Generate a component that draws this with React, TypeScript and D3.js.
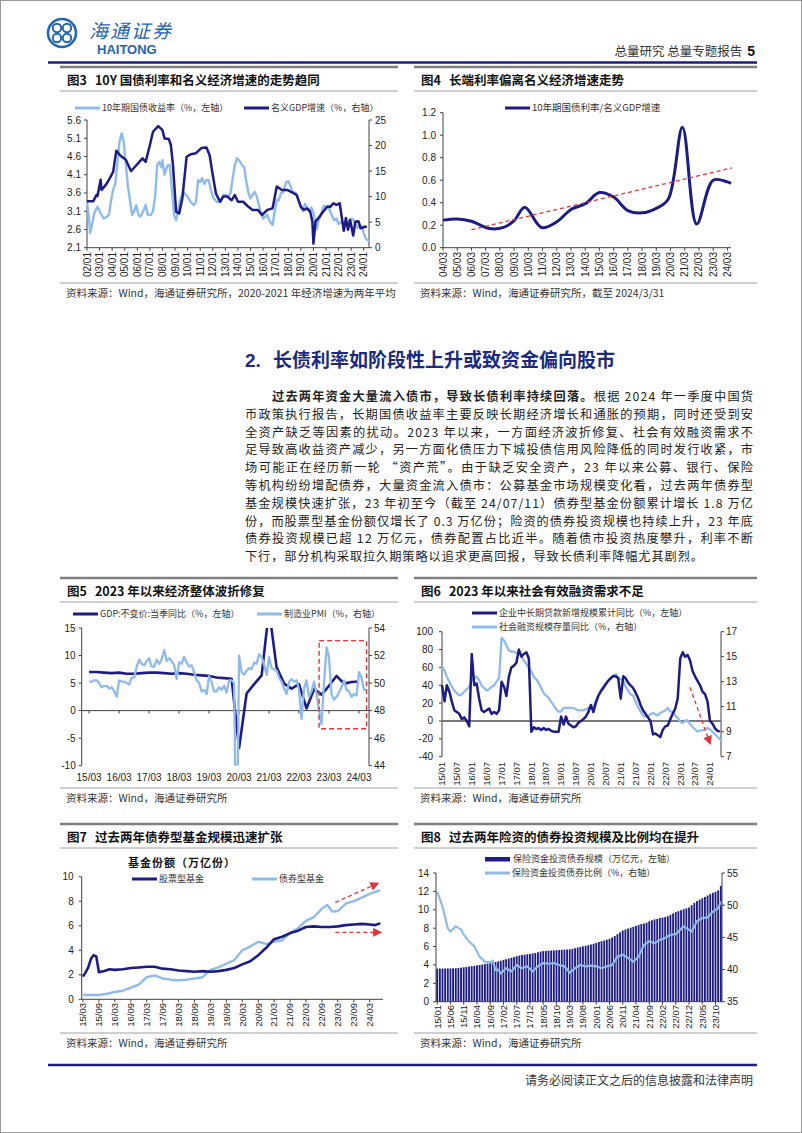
import React from 'react';
import * as d3 from 'd3';

const NAVY = '#1c1c84';
const LIGHT = '#8fbbea';
const RED = '#e5333a';
const AXIS = '#404040';
const CJK = '"Noto Sans CJK SC", "Noto Sans", sans-serif';
const NUM = '"Liberation Sans", Arial, sans-serif';

type Pt = [string, number];
const ym = (s: string) => {
  const [y, m] = s.split('/').map(Number);
  return new Date(2000 + y, m - 1, 1);
};

// ---------- 图3 ----------
const c3LeftTicks = [2.1, 2.6, 3.1, 3.6, 4.1, 4.6, 5.1, 5.6];
const c3RightTicks = [0, 5, 10, 15, 20, 25];
const c3XLabels = ['02/01', '03/01', '04/01', '05/01', '06/01', '07/01', '08/01', '09/01', '10/01', '11/01', '12/01', '13/01',
  '14/01', '15/01', '16/01', '17/01', '18/01', '19/01', '20/01', '21/01', '22/01', '23/01', '24/01'];
const c3Yield: Pt[] = [
  ['02/01', 3.35], ['02/03', 2.9], ['02/04', 2.5], ['02/06', 2.75], ['02/08', 3.05], ['02/11', 3.22], ['03/02', 3.05],
  ['03/05', 2.9], ['03/08', 2.95], ['03/10', 3.0], ['03/12', 3.4], ['04/02', 3.7], ['04/04', 3.85], ['04/06', 4.4],
  ['04/08', 5.0], ['04/10', 5.23], ['04/12', 5.0], ['05/02', 4.4], ['05/04', 3.8], ['05/06', 3.4], ['05/08', 3.0],
  ['05/10', 3.1], ['05/12', 3.27], ['06/02', 3.0], ['06/04', 2.95], ['06/06', 3.05], ['06/09', 3.27], ['06/11', 3.0],
  ['07/02', 3.0], ['07/04', 3.1], ['07/06', 3.5], ['07/08', 4.36], ['07/10', 4.45], ['07/12', 4.3], ['08/01', 4.5],
  ['08/03', 4.1], ['08/04', 4.2], ['08/06', 4.36], ['08/08', 4.36], ['08/10', 3.7], ['08/12', 3.0], ['09/02', 2.86],
  ['09/04', 3.1], ['09/06', 3.45], ['09/09', 3.63], ['09/11', 3.55], ['10/01', 3.5], ['10/04', 3.35], ['10/07', 3.27],
  ['10/09', 3.35], ['10/11', 3.95], ['11/01', 3.9], ['11/03', 4.0], ['11/05', 3.85], ['11/07', 3.95], ['11/09', 3.95],
  ['11/12', 3.6], ['12/02', 3.45], ['12/05', 3.35], ['12/08', 3.36], ['12/11', 3.55], ['13/01', 3.54], ['13/04', 3.5],
  ['13/06', 3.6], ['13/08', 4.0], ['13/10', 4.36], ['13/12', 4.55], ['14/02', 4.5], ['14/05', 4.36], ['14/07', 4.3],
  ['14/09', 3.9], ['14/11', 3.6], ['15/01', 3.45], ['15/03', 3.55], ['15/05', 3.63], ['15/07', 3.5], ['15/09', 3.27],
  ['15/11', 3.05], ['16/01', 2.9], ['16/03', 2.95], ['16/05', 3.0], ['16/07', 2.85], ['16/10', 2.72], ['16/12', 3.1],
  ['17/02', 3.4], ['17/04', 3.4], ['17/06', 3.6], ['17/08', 3.62], ['17/11', 3.9], ['18/01', 3.92], ['18/03', 3.8],
  ['18/05', 3.63], ['18/08', 3.6], ['18/10', 3.5], ['19/01', 3.2], ['19/03', 3.1], ['19/05', 3.3], ['19/07', 3.2],
  ['19/09', 3.1], ['19/11', 3.2], ['20/01', 3.05], ['20/03', 2.7], ['20/04', 2.6], ['20/06', 2.85], ['20/08', 3.0],
  ['20/11', 3.25], ['21/01', 3.2], ['21/03', 3.25], ['21/05', 3.1], ['21/07', 2.95], ['21/09', 2.85], ['21/11', 2.9],
  ['22/01', 2.75], ['22/03', 2.8], ['22/05', 2.78], ['22/07', 2.75], ['22/09', 2.7], ['22/11', 2.85], ['23/01', 2.9],
  ['23/03', 2.87], ['23/05', 2.75], ['23/07', 2.65], ['23/09', 2.7], ['23/11', 2.68], ['24/01', 2.5], ['24/03', 2.35],
  ['24/05', 2.3], ['24/06', 2.27],
];
const c3Gdp: Pt[] = [
  ['02/01', 9.1], ['02/07', 9.1], ['02/10', 10.3], ['02/11', 10.1], ['03/02', 13.3], ['03/03', 11.3], ['03/07', 12.3],
  ['03/10', 13.3], ['04/02', 14.9], ['04/05', 19.0], ['04/09', 18.0], ['05/02', 17.2], ['05/07', 15.0], ['05/11', 15.9],
  ['06/03', 16.8], ['06/06', 17.5], ['06/09', 16.8], ['07/01', 20.1], ['07/04', 22.7], ['07/09', 23.8], ['08/01', 23.0],
  ['08/03', 21.4], ['08/07', 21.3], ['08/09', 20.1], ['08/11', 16.2], ['09/02', 7.0], ['09/05', 6.7], ['09/08', 9.7],
  ['09/12', 17.8], ['10/04', 18.3], ['10/09', 18.5], ['11/02', 19.5], ['11/07', 19.6], ['11/10', 18.1], ['12/01', 14.2],
  ['12/04', 10.6], ['12/08', 9.0], ['12/11', 10.0], ['13/03', 10.0], ['13/07', 9.3], ['13/10', 10.3], ['14/01', 9.0],
  ['14/06', 9.0], ['14/11', 8.0], ['15/03', 7.4], ['15/08', 7.4], ['15/12', 6.4], ['16/05', 7.4], ['16/10', 7.7],
  ['17/02', 12.0], ['17/07', 11.3], ['17/12', 11.3], ['18/05', 10.8], ['18/09', 10.3], ['19/01', 8.0], ['19/04', 7.4],
  ['19/07', 7.7], ['19/10', 7.0], ['19/12', 5.1], ['20/01', 0.8], ['20/03', 5.1], ['20/07', 6.1], ['20/10', 7.0],
  ['21/02', 8.0], ['21/05', 8.0], ['21/08', 8.7], ['21/11', 8.4], ['22/02', 8.7], ['22/06', 3.3], ['22/08', 5.8],
  ['22/10', 3.5], ['22/12', 5.4], ['23/03', 2.4], ['23/05', 5.1], ['23/08', 5.2], ['23/10', 3.8], ['24/02', 4.1],
  ['24/04', 4.1],
];

// ---------- 图4 ----------
const c4Ticks = [0, 0.2, 0.4, 0.6, 0.8, 1.0, 1.2];
const c4XLabels = ['04/03', '05/03', '06/03', '07/03', '08/03', '09/03', '10/03', '11/03', '12/03', '13/03', '14/03',
  '15/03', '16/03', '17/03', '18/03', '19/03', '20/03', '21/03', '22/03', '23/03', '24/03'];
const c4Ratio: Pt[] = [
  ['04/03', 0.245], ['05/03', 0.255], ['06/03', 0.235], ['07/06', 0.17], ['08/06', 0.18], ['09/03', 0.24],
  ['09/12', 0.36], ['11/02', 0.18], ['12/03', 0.23], ['13/03', 0.34], ['14/03', 0.39], ['15/03', 0.49],
  ['16/03', 0.45], ['17/03', 0.33], ['18/03', 0.31], ['19/03', 0.35], ['20/01', 0.43], ['21/01', 1.07],
  ['22/01', 0.21], ['23/03', 0.6], ['24/03', 0.585], ['24/06', 0.57],
];
const c4Trend: Pt[] = [['06/03', 0.16], ['24/07', 0.71]];

// ---------- 图5 ----------
const c5LeftTicks = [-10, -5, 0, 5, 10, 15];
const c5RightTicks = [44, 46, 48, 50, 52, 54];
const c5XLabels = ['15/03', '16/03', '17/03', '18/03', '19/03', '20/03', '21/03', '22/03', '23/03', '24/03'];
const c5Gdp: Pt[] = [
  ['15/03', 7.0], ['15/06', 7.0], ['15/09', 6.9], ['15/12', 6.8], ['16/03', 6.9], ['16/06', 6.7], ['16/09', 6.7],
  ['16/12', 6.8], ['17/03', 6.9], ['17/06', 6.9], ['17/09', 6.8], ['17/12', 6.7], ['18/03', 6.8], ['18/06', 6.7],
  ['18/09', 6.5], ['18/12', 6.4], ['19/03', 6.3], ['19/06', 6.0], ['19/09', 5.9], ['19/12', 5.8], ['20/03', -6.8],
  ['20/06', 3.1], ['20/09', 4.8], ['20/12', 6.4], ['21/03', 18.3], ['21/06', 7.9], ['21/09', 4.9], ['21/12', 4.0],
  ['22/03', 4.8], ['22/06', 0.4], ['22/09', 3.9], ['22/12', 2.9], ['23/03', 4.5], ['23/06', 6.3], ['23/09', 4.9],
  ['23/12', 5.2], ['24/03', 5.3],
];
const c5PmiStart = '15/03';
const c5Pmi = [
  50.1, 50.1, 50.2, 50.2, 50.0, 49.7, 49.8, 49.8, 49.6, 49.7,
  49.4, 49.0, 50.2, 50.1, 50.1, 50.0, 49.9, 50.4, 50.4, 51.2, 51.7, 51.4,
  51.3, 51.6, 51.8, 51.2, 51.2, 51.7, 51.4, 51.7, 52.4, 51.6, 51.8, 51.6,
  51.3, 50.3, 51.5, 51.4, 51.9, 51.5, 51.2, 51.3, 50.8, 50.2, 50.0, 49.4,
  49.5, 49.2, 50.5, 50.1, 49.4, 49.4, 49.7, 49.5, 49.8, 49.3, 50.2, 50.2,
  50.0, 35.7, 52.0, 50.8, 50.6, 50.9, 51.1, 51.0, 51.5, 51.4, 52.1, 51.9,
  51.3, 50.6, 51.9, 51.1, 51.0, 50.9, 50.4, 50.1, 49.6, 49.2, 50.1, 50.3,
  50.1, 50.2, 49.5, 47.4, 49.6, 50.2, 49.0, 49.4, 50.1, 49.2, 48.0, 47.0,
  50.1, 52.6, 51.9, 49.2, 48.8, 49.0, 49.3, 49.7, 50.2, 49.5, 49.4, 49.0,
  49.2, 49.1, 50.8, 50.4, 49.5, 49.5,
];
const c5Box: Pt[] = [['22/11', 12.7], ['24/06', -3.3]];

// ---------- 图6 ----------
const c6LeftTicks = [-40, -20, 0, 20, 40, 60, 80, 100];
const c6RightTicks = [7, 9, 11, 13, 15, 17];
const c6XLabels = ['15/01', '15/07', '16/01', '16/07', '17/01', '17/07', '18/01', '18/07', '19/01', '19/07', '20/01',
  '20/07', '21/01', '21/07', '22/01', '22/07', '23/01', '23/07', '24/01'];
const c6Start = '15/01';
const c6Loan = [
  40, 22, 40, 33, 22, 12, 10, 8, 2, 4, 0, -6,
  75, 40, 42, 25, 12, 10, 12, 14, 8, 10, 8, 12,
  44, 38, 28, 50, 60, 62, 65, 80, 72, 75, 77, 70,
  -12, -7, -9, -8, -10, -8, -10, -9, -11, -12, -12, -12,
  5, -4, 5, -3, -5, -7, -6, -2, 0, 2, 5, 10,
  18, 10, 20, 28, 33, 37, 41, 45, 48, 50, 50, 48,
  25, 50, 48, 43, 40, 37, 32, 26, 18, 12, 8, 4,
  0, -15, -14, -16, -18, -10, -6, -5, 2, 8, 14, 25,
  70, 77, 72, 74, 68, 56, 50, 45, 40, 33, 30, 22,
  0, -3, -8, -11, -12,
];
const c6Tsf = [
  14.2, 13.9, 13.4, 13.0, 12.6, 12.3, 12.1, 11.9, 12.0, 12.2, 12.4, 12.6,
  13.1, 13.3, 13.4, 13.1, 12.7, 12.5, 12.3, 12.4, 12.6, 12.7, 13.0, 13.3,
  16.5, 16.3, 15.9, 15.5, 15.4, 15.4, 15.3, 15.4, 15.1, 14.7, 14.4, 14.1,
  13.8, 13.4, 13.2, 12.9, 12.5, 12.1, 11.9, 11.7, 11.4, 11.1, 10.8, 10.6,
  10.6, 10.9, 10.9, 10.9, 10.9, 10.9, 10.8, 10.7, 10.7, 10.7, 10.8, 10.9,
  10.9, 11.0, 11.5, 11.9, 12.3, 12.6, 12.9, 13.1, 13.3, 13.5, 13.6, 13.3,
  13.2, 13.1, 12.6, 12.3, 12.0, 11.9, 11.4, 11.0, 10.6, 10.3, 10.2, 10.2,
  10.4, 10.5, 10.4, 10.3, 10.5, 10.6, 10.7, 10.9, 10.6, 10.6, 10.3, 10.1,
  9.8, 9.7, 9.9, 9.9, 9.6, 9.4, 9.2, 9.0, 9.1, 9.1, 9.2, 9.3,
  9.2, 9.0, 8.8, 8.6, 8.4, 8.3,
];
const c6Arrow: Pt[] = [['23/05', 37.7], ['24/01', -25]];

// ---------- 图7 ----------
const c7Ticks = [0, 2, 4, 6, 8, 10];
const c7XLabels = ['15/03', '15/09', '16/03', '16/09', '17/03', '17/09', '18/03', '18/09', '19/03', '19/09', '20/03',
  '20/09', '21/03', '21/09', '22/03', '22/09', '23/03', '23/09', '24/03'];
const c7Equity: Pt[] = [
  ['15/03', 1.85], ['15/04', 2.2], ['15/05', 2.6], ['15/06', 3.3], ['15/07', 3.6], ['15/08', 3.5], ['15/09', 2.2],
  ['15/11', 2.3], ['16/01', 2.45], ['16/03', 2.4], ['16/06', 2.45], ['16/09', 2.55], ['16/12', 2.6], ['17/03', 2.65],
  ['17/06', 2.65], ['17/09', 2.5], ['17/12', 2.45], ['18/03', 2.35], ['18/06', 2.3], ['18/09', 2.25], ['18/12', 2.3],
  ['19/03', 2.25], ['19/06', 2.3], ['19/09', 2.4], ['19/12', 2.55], ['20/03', 2.85], ['20/06', 3.1], ['20/09', 3.6],
  ['20/12', 4.2], ['21/03', 4.9], ['21/06', 5.1], ['21/09', 5.4], ['21/12', 5.6], ['22/03', 5.9], ['22/06', 5.95],
  ['22/09', 5.9], ['22/12', 5.9], ['23/03', 5.95], ['23/06', 6.05], ['23/09', 6.1], ['23/12', 6.15], ['24/03', 6.1],
  ['24/05', 6.05], ['24/07', 6.2],
];
const c7Bond: Pt[] = [
  ['15/03', 0.35], ['15/09', 0.35], ['15/12', 0.45], ['16/03', 0.6], ['16/06', 0.7], ['16/09', 0.95], ['16/12', 1.2],
  ['17/03', 1.8], ['17/06', 1.95], ['17/09', 1.7], ['17/12', 1.6], ['18/03', 1.55], ['18/06', 1.6], ['18/09', 1.7],
  ['18/12', 1.8], ['19/03', 2.4], ['19/06', 2.6], ['19/09', 2.9], ['19/12', 3.2], ['20/03', 4.0], ['20/06', 4.3],
  ['20/09', 4.7], ['20/12', 4.5], ['21/03', 4.7], ['21/06', 4.8], ['21/09', 5.4], ['21/12', 5.8], ['22/03', 6.4],
  ['22/06', 6.7], ['22/09', 7.4], ['22/11', 7.7], ['23/01', 7.15], ['23/03', 7.2], ['23/06', 7.8], ['23/09', 8.0],
  ['24/01', 8.4], ['24/03', 8.6], ['24/07', 8.9],
];
const c7ArrowUp: Pt[] = [['23/02', 7.9], ['24/06', 9.45]];
const c7ArrowFlat: Pt[] = [['23/02', 5.46], ['24/07', 5.46]];

// ---------- 图8 ----------
const c8LeftTicks = [0, 2, 4, 6, 8, 10, 12, 14];
const c8RightTicks = [35, 40, 45, 50, 55];
const c8XLabels = ['15/01', '15/06', '15/11', '16/04', '16/09', '17/02', '17/07', '17/12', '18/05', '18/10', '19/03',
  '19/08', '20/01', '20/06', '20/11', '21/04', '21/09', '22/02', '22/07', '22/12', '23/05', '23/10'];
const c8Start = '15/01';
const c8Bond = [
  3.60, 3.60, 3.61, 3.60, 3.62, 3.62, 3.63, 3.64, 3.66, 3.70, 3.74, 3.78,
  3.82, 3.86, 3.90, 3.95, 4.00, 4.05, 4.10, 4.15, 4.22, 4.28, 4.32, 4.38,
  4.45, 4.55, 4.62, 4.70, 4.78, 4.85, 4.95, 5.02, 5.08, 5.12, 5.16, 5.20,
  5.25, 5.30, 5.38, 5.45, 5.50, 5.52, 5.55, 5.57, 5.58, 5.60, 5.62, 5.64,
  5.66, 5.68, 5.70, 5.75, 5.82, 5.90, 5.96, 6.02, 6.08, 6.15, 6.22, 6.30,
  6.40, 6.50, 6.58, 6.66, 6.75, 6.85, 7.00, 7.15, 7.35, 7.55, 7.75, 7.85,
  7.95, 8.05, 8.15, 8.25, 8.35, 8.45, 8.50, 8.60, 8.75, 8.85, 8.95, 9.00,
  9.10, 9.15, 9.20, 9.30, 9.45, 9.60, 9.75, 9.85, 9.95, 10.05, 10.15, 10.25,
  10.50, 10.75, 10.95, 11.10, 11.25, 11.40, 11.55, 11.70, 11.85, 11.95, 12.10, 12.60,
];
const c8Ratio: Pt[] = [
  ['15/01', 52.1], ['15/03', 49.8], ['15/05', 46.4], ['15/06', 45.9], ['15/08', 46.7], ['15/10', 46.2], ['15/11', 45.4],
  ['16/01', 44.4], ['16/03', 43.6], ['16/05', 42.0], ['16/07', 41.2], ['16/09', 41.1], ['16/10', 41.4], ['16/11', 39.9],
  ['16/12', 40.0], ['17/01', 39.4], ['17/03', 40.2], ['17/05', 39.7], ['17/07', 40.7], ['17/09', 40.2], ['17/11', 40.5],
  ['18/01', 39.7], ['18/03', 40.5], ['18/05', 41.0], ['18/07', 40.9], ['18/09', 41.0], ['18/11', 40.7], ['19/01', 40.5],
  ['19/03', 39.5], ['19/05', 40.2], ['19/07', 40.7], ['19/09', 40.5], ['19/11', 40.6], ['20/01', 40.5], ['20/03', 40.2],
  ['20/05', 40.5], ['20/07', 40.7], ['20/09', 42.0], ['20/11', 42.3], ['21/01', 41.8], ['21/03', 41.2], ['21/05', 42.0],
  ['21/07', 43.8], ['21/09', 44.4], ['21/11', 44.1], ['22/01', 44.6], ['22/03', 44.9], ['22/05', 45.4], ['22/07', 45.5],
  ['22/10', 46.7], ['23/01', 45.9], ['23/03', 47.5], ['23/05', 48.0], ['23/07', 48.1], ['23/09', 49.0], ['23/11', 49.5],
  ['23/12', 50.6],
];

// ---------- 正文 ----------
const leadBold = '过去两年资金大量流入债市，导致长债利率持续回落。';
const leadRest = '根据 2024 年一季度中国货';
const paraLines = [
  '币政策执行报告，长期国债收益率主要反映长期经济增长和通胀的预期，同时还受到安',
  '全资产缺乏等因素的扰动。2023 年以来，一方面经济波折修复、社会有效融资需求不',
  '足导致高收益资产减少，另一方面化债压力下城投债信用风险降低的同时发行收紧，市',
  '场可能正在经历新一轮 “资产荒”。由于缺乏安全资产，23 年以来公募、银行、保险',
  '等机构纷纷增配债券，大量资金流入债市：公募基金市场规模变化看，过去两年债券型',
  '基金规模快速扩张，23 年初至今（截至 24/07/11）债券型基金份额累计增长 1.8 万亿',
  '份，而股票型基金份额仅增长了 0.3 万亿份；险资的债券投资规模也持续上升，23 年底',
  '债券投资规模已超 12 万亿元，债券配置占比近半。随着债市投资热度攀升，利率不断',
  '下行，部分机构采取拉久期策略以追求更高回报，导致长债利率降幅尤其剧烈。',
];

// ---------- helpers ----------
type Lin = d3.ScaleLinear<number, number>;

function Frame({ x0, x1, top, bottom, num, title, source }: {
  x0: number; x1: number; top: number; bottom: number; num: string; title: string; source: string;
}) {
  return (
    <g>
      <line x1={x0} x2={x1} y1={top} y2={top} stroke="#808080" strokeWidth={2.5} />
      <text x={x0 + 7} y={top + 18} fontFamily={CJK} fontSize={12.5} fontWeight="bold" fill="#111">
        <tspan>{num}</tspan>
        <tspan dx={8}>{title}</tspan>
      </text>
      <line x1={x0} x2={x1} y1={top + 24} y2={top + 24} stroke="#a0a0a0" strokeWidth={1} />
      <line x1={x0} x2={x1} y1={bottom} y2={bottom} stroke="#a0a0a0" strokeWidth={1} />
      <text x={x0 + 6} y={bottom + 14} fontFamily={CJK} fontSize={10.5} fill="#333">{source}</text>
    </g>
  );
}

function YAxis({ scale, x, ticks, side, fmt = (d: number) => String(d), tick = 3, gap = 3 }: {
  scale: Lin; x: number; ticks: number[]; side: 'left' | 'right'; fmt?: (d: number) => string; tick?: number; gap?: number;
}) {
  const [r0, r1] = scale.range();
  const dir = side === 'left' ? -1 : 1;
  return (
    <g>
      <line x1={x} x2={x} y1={r0} y2={r1} stroke={AXIS} strokeWidth={1} />
      {ticks.map((t) => (
        <g key={t}>
          <line x1={x} x2={x + dir * tick} y1={scale(t)} y2={scale(t)} stroke={AXIS} />
          <text x={x + dir * (tick + gap)} y={scale(t)} dy="0.35em" textAnchor={side === 'left' ? 'end' : 'start'}
            fontFamily={NUM} fontSize={10} fill="#222">{fmt(t)}</text>
        </g>
      ))}
    </g>
  );
}

function XAxisLine({ x0, x1, y, ticks, len = 3 }: { x0: number; x1: number; y: number; ticks: number[]; len?: number }) {
  return (
    <g>
      <line x1={x0} x2={x1} y1={y} y2={y} stroke={AXIS} />
      {ticks.map((t, i) => <line key={i} x1={t} x2={t} y1={y} y2={y + len} stroke={AXIS} />)}
    </g>
  );
}

function RotLabels({ items, y, size = 9.5 }: { items: [string, number][]; y: number; size?: number }) {
  return (
    <g>
      {items.map(([l, x]) => (
        <text key={l} transform={`translate(${x},${y}) rotate(-90)`} textAnchor="end" dy="0.35em"
          fontFamily={NUM} fontSize={size} fill="#222">{l}</text>
      ))}
    </g>
  );
}

function LegendLine({ x, y, color, label, w = 25, sw = 3, size = 9 }: {
  x: number; y: number; color: string; label: string; w?: number; sw?: number; size?: number;
}) {
  return (
    <g>
      <line x1={x} x2={x + w} y1={y} y2={y} stroke={color} strokeWidth={sw} />
      <text x={x + w + 2} y={y} dy="0.36em" fontFamily={CJK} fontSize={size} fill="#333">{label}</text>
    </g>
  );
}

// ---------- charts ----------
function Chart3() {
  const x = d3.scaleTime().domain([ym('02/01'), ym('24/06')]).range([87, 369]);
  const yL = d3.scaleLinear().domain([2.1, 5.6]).range([247.7, 120]);
  const yR = d3.scaleLinear().domain([0, 25]).range([247.7, 120]);
  const lineL = d3.line<Pt>().x((d) => x(ym(d[0]))).y((d) => yL(d[1]));
  const lineR = d3.line<Pt>().x((d) => x(ym(d[0]))).y((d) => yR(d[1]));
  return (
    <g>
      <Frame x0={60} x1={398} top={67} bottom={283} num="图3" title="10Y 国债利率和名义经济增速的走势趋同"
        source="资料来源：Wind，海通证券研究所，2020-2021 年经济增速为两年平均" />
      <LegendLine x={75} y={108} color={LIGHT} label="10年期国债收益率（%，左轴）" />
      <LegendLine x={244} y={108} color={NAVY} label="名义GDP增速（%，右轴）" />
      <XAxisLine x0={87} x1={369} y={247.7} ticks={c3XLabels.map((l) => x(ym(l)))} />
      <YAxis scale={yL} x={87} ticks={c3LeftTicks} side="left" fmt={(d) => d.toFixed(1)} />
      <YAxis scale={yR} x={369} ticks={c3RightTicks} side="right" />
      <RotLabels items={c3XLabels.map((l) => [l, x(ym(l))] as [string, number])} y={252} size={10} />
      <path d={lineL(c3Yield) || ''} fill="none" stroke={LIGHT} strokeWidth={2.4} strokeLinejoin="round" />
      <path d={lineR(c3Gdp) || ''} fill="none" stroke={NAVY} strokeWidth={2.5} strokeLinejoin="round" />
    </g>
  );
}

function Chart4() {
  const x = d3.scaleTime().domain([ym('04/03'), ym('24/06')]).range([443, 731]);
  const y = d3.scaleLinear().domain([0, 1.2]).range([247.7, 112.7]);
  const line = d3.line<Pt>().x((d) => x(ym(d[0]))).y((d) => y(d[1])).curve(d3.curveCatmullRom.alpha(0.5));
  const trend = d3.line<Pt>().x((d) => x(ym(d[0]))).y((d) => y(d[1]));
  return (
    <g>
      <Frame x0={414} x1={757} top={67} bottom={283} num="图4" title="长端利率偏离名义经济增速走势"
        source="资料来源：Wind，海通证券研究所，截至 2024/3/31" />
      <LegendLine x={505} y={108} color={NAVY} label="10年期国债利率/名义GDP增速" size={9.5} />
      <XAxisLine x0={443} x1={731} y={247.7} ticks={c4XLabels.map((l) => x(ym(l)))} />
      <YAxis scale={y} x={443} ticks={c4Ticks} side="left" fmt={(d) => d.toFixed(1)} tick={3} gap={4} />
      <RotLabels items={c4XLabels.map((l) => [l, x(ym(l))] as [string, number])} y={252} size={10} />
      <path d={line(c4Ratio) || ''} fill="none" stroke={NAVY} strokeWidth={3} />
      <path d={trend(c4Trend) || ''} fill="none" stroke={RED} strokeWidth={1.3} strokeDasharray="4,3" />
    </g>
  );
}

function Chart5() {
  const x = d3.scaleTime().domain([new Date(2014, 11, 1), new Date(2024, 6, 1)]).range([81.7, 369]);
  const yL = d3.scaleLinear().domain([-10, 15]).range([765.7, 628]);
  const yR = d3.scaleLinear().domain([44, 54]).range([765.7, 628]);
  const gdpLine = d3.line<Pt>().x((d) => x(ym(d[0]))).y((d) => yL(d[1]));
  const pmiLine = d3.line<number>()
    .x((_, i) => x(d3.timeMonth.offset(ym(c5PmiStart), i)))
    .y((d) => yR(d));
  const bx0 = x(ym(c5Box[0][0]));
  const bx1 = x(ym(c5Box[1][0]));
  const by0 = yL(c5Box[0][1]);
  const by1 = yL(c5Box[1][1]);
  return (
    <g>
      <Frame x0={60} x1={398} top={578} bottom={788} num="图5" title="2023 年以来经济整体波折修复"
        source="资料来源：Wind，海通证券研究所" />
      <LegendLine x={73} y={614} color={NAVY} label="GDP:不变价:当季同比（%，左轴）" />
      <LegendLine x={257} y={614} color={LIGHT} label="制造业PMI（%，右轴）" />
      <defs>
        <clipPath id="c5clip"><rect x={81.7} y={628} width={287.3} height={137.7} /></clipPath>
      </defs>
      <YAxis scale={yL} x={81.7} ticks={c5LeftTicks} side="left" tick={3} gap={3} />
      <YAxis scale={yR} x={369} ticks={c5RightTicks} side="right" tick={3} gap={2} />
      <XAxisLine x0={81.7} x1={369} y={yL(0)} ticks={c5XLabels.map((l) => x(ym(l)))} />
      {c5XLabels.map((l) => (
        <text key={l} x={x(ym(l))} y={781} textAnchor="middle" fontFamily={NUM} fontSize={10} fill="#222">{l}</text>
      ))}
      <g clipPath="url(#c5clip)">
        <path d={gdpLine(c5Gdp) || ''} fill="none" stroke={NAVY} strokeWidth={2.6} strokeLinejoin="round" />
        <path d={pmiLine(c5Pmi) || ''} fill="none" stroke={LIGHT} strokeWidth={2.3} strokeLinejoin="round" />
      </g>
      <rect x={bx0} y={by0} width={bx1 - bx0} height={by1 - by0} fill="none" stroke={RED}
        strokeWidth={1.4} strokeDasharray="5,3" />
    </g>
  );
}

function Chart6() {
  const x = d3.scaleTime().domain([ym('15/01'), new Date(2024, 4, 15)]).range([442, 721]);
  const yL = d3.scaleLinear().domain([-40, 100]).range([756.7, 631.7]);
  const yR = d3.scaleLinear().domain([7, 17]).range([756.7, 631.7]);
  const monthX = (i: number) => x(d3.timeMonth.offset(ym(c6Start), i));
  const loanLine = d3.line<number>().x((_, i) => monthX(i)).y((d) => yL(d));
  const tsfLine = d3.line<number>().x((_, i) => monthX(i)).y((d) => yR(d));
  return (
    <g>
      <Frame x0={414} x1={757} top={578} bottom={788} num="图6" title="2023 年以来社会有效融资需求不足"
        source="资料来源：Wind，海通证券研究所" />
      <LegendLine x={472} y={613} color={NAVY} label="企业中长期贷款新增规模累计同比（%，左轴）" />
      <LegendLine x={472} y={627} color={LIGHT} label="社会融资规模存量同比（%，右轴）" />
      <YAxis scale={yL} x={442} ticks={c6LeftTicks} side="left" tick={3} gap={6} />
      <YAxis scale={yR} x={721} ticks={c6RightTicks} side="right" tick={3} gap={2} />
      <line x1={442} x2={721} y1={yL(0)} y2={yL(0)} stroke="#7a7a7a" strokeWidth={1.8} />
      <RotLabels items={c6XLabels.map((l) => [l, x(ym(l))] as [string, number])} y={762} />
      <path d={tsfLine(c6Tsf) || ''} fill="none" stroke={LIGHT} strokeWidth={2.3} strokeLinejoin="round" />
      <path d={loanLine(c6Loan) || ''} fill="none" stroke={NAVY} strokeWidth={2.5} strokeLinejoin="round" />
      <line x1={x(ym(c6Arrow[0][0]))} y1={yL(c6Arrow[0][1])} x2={x(ym(c6Arrow[1][0]))} y2={yL(c6Arrow[1][1])}
        stroke={RED} strokeWidth={1.3} strokeDasharray="4,3" markerEnd="url(#arrowRed)" />
    </g>
  );
}

function Chart7() {
  const x = d3.scaleTime().domain([new Date(2015, 1, 15), ym('24/08')]).range([81.7, 383]);
  const y = d3.scaleLinear().domain([0, 10]).range([999.3, 876.7]);
  const line = d3.line<Pt>().x((d) => x(ym(d[0]))).y((d) => y(d[1]));
  const arrow = (a: Pt[]) => ({ x1: x(ym(a[0][0])), y1: y(a[0][1]), x2: x(ym(a[1][0])), y2: y(a[1][1]) });
  return (
    <g>
      <Frame x0={60} x1={398} top={824} bottom={1033} num="图7" title="过去两年债券型基金规模迅速扩张"
        source="资料来源：Wind，海通证券研究所" />
      <text x={182} y={867} textAnchor="middle" fontFamily={CJK} fontSize={11} fontWeight="bold" fill="#111"
        letterSpacing={1}>基金份额（万亿份）</text>
      <LegendLine x={132} y={879} color={NAVY} label="股票型基金" />
      <LegendLine x={252} y={879} color={LIGHT} label="债券型基金" />
      <YAxis scale={y} x={81.7} ticks={c7Ticks} side="left" tick={3} gap={5} />
      <XAxisLine x0={81.7} x1={383} y={999.3} ticks={c7XLabels.map((l) => x(ym(l)))} />
      <RotLabels items={c7XLabels.map((l) => [l, x(ym(l))] as [string, number])} y={1003} />
      <path d={line(c7Bond) || ''} fill="none" stroke={LIGHT} strokeWidth={2.4} strokeLinejoin="round" />
      <path d={line(c7Equity) || ''} fill="none" stroke={NAVY} strokeWidth={2.6} strokeLinejoin="round" />
      <line {...arrow(c7ArrowUp)} stroke={RED} strokeWidth={1.3} strokeDasharray="4,3" markerEnd="url(#arrowRed)" />
      <line {...arrow(c7ArrowFlat)} stroke={RED} strokeWidth={1.3} strokeDasharray="4,3" markerEnd="url(#arrowRed)" />
    </g>
  );
}

function Chart8() {
  const months = c8Bond.map((_, i) => d3.timeFormat('%y/%m')(d3.timeMonth.offset(ym(c8Start), i)));
  const x = d3.scaleBand<string>().domain(months).range([436, 722]).paddingInner(0.3).paddingOuter(0.1);
  const cx = (m: string) => (x(m) ?? 0) + x.bandwidth() / 2;
  const yL = d3.scaleLinear().domain([0, 14]).range([1001.7, 873]);
  const yR = d3.scaleLinear().domain([35, 55]).range([1001.7, 873]);
  const ratioLine = d3.line<Pt>().x((d) => cx(d[0])).y((d) => yR(d[1]));
  return (
    <g>
      <Frame x0={414} x1={757} top={824} bottom={1033} num="图8" title="过去两年险资的债券投资规模及比例均在提升"
        source="资料来源：Wind，海通证券研究所" />
      <rect x={485} y={857} width={25} height={4.5} fill={NAVY} />
      <text x={513} y={859} dy="0.36em" fontFamily={CJK} fontSize={9} fill="#333">保险资金投资债券规模（万亿元，左轴）</text>
      <LegendLine x={485} y={873} color={LIGHT} label="保险资金投资债券比例（%，右轴）" />
      {c8Bond.map((v, i) => (
        <rect key={i} x={x(months[i])} y={yL(v)} width={x.bandwidth()} height={yL(0) - yL(v)} fill={NAVY} />
      ))}
      <path d={ratioLine(c8Ratio) || ''} fill="none" stroke={LIGHT} strokeWidth={2.2} strokeLinejoin="round" />
      <YAxis scale={yL} x={436} ticks={c8LeftTicks} side="left" tick={3} gap={4} />
      <YAxis scale={yR} x={722} ticks={c8RightTicks} side="right" tick={3} gap={2} />
      <XAxisLine x0={436} x1={722} y={1001.7} ticks={c8XLabels.map((l) => cx(l))} />
      <RotLabels items={c8XLabels.map((l) => [l, cx(l)] as [string, number])} y={1005} />
    </g>
  );
}

function Header() {
  return (
    <g>
      <circle cx={62} cy={33} r={14} fill="none" stroke="#2466b2" strokeWidth={2.6} />
      <circle cx={57} cy={28} r={4.2} fill="none" stroke="#2466b2" strokeWidth={2} />
      <circle cx={67} cy={28} r={4.2} fill="none" stroke="#2466b2" strokeWidth={2} />
      <circle cx={57} cy={38} r={4.2} fill="none" stroke="#2466b2" strokeWidth={2} />
      <circle cx={67} cy={38} r={4.2} fill="none" stroke="#2466b2" strokeWidth={2} />
      <text x={89} y={38} fontFamily={CJK} fontSize={19} fontStyle="italic" fill="#2466b2" letterSpacing={2}>海通证券</text>
      <text x={97} y={53.5} fontFamily={NUM} fontSize={13} fontWeight="bold" fill="#2466b2">HAITONG</text>
      <text x={755} y={56} textAnchor="end" fontFamily={CJK} fontSize={12.5} fill="#333">
        <tspan>总量研究 总量专题报告</tspan>
        <tspan dx={5} fontFamily={NUM} fontWeight="bold" fontSize={14} fill="#111">5</tspan>
      </text>
      <line x1={48} x2={757} y1={62.5} y2={62.5} stroke={NAVY} strokeWidth={2.5} />
    </g>
  );
}

function Body() {
  const base = 401;
  const step = 17.8;
  const fs = 12.2;
  return (
    <g>
      <text x={245} y={367} fontFamily={NUM} fontSize={19} fontWeight="bold" fill="#1b2a80">2.</text>
      <text x={273} y={367} fontFamily={CJK} fontSize={19} fontWeight="bold" fill="#1b2a80">长债利率如阶段性上升或致资金偏向股市</text>
      <text x={272} y={base} textLength={481} lengthAdjust="spacing" fontFamily={CJK} fontSize={fs} fill="#222">
        <tspan fontWeight="bold">{leadBold}</tspan>
        <tspan>{leadRest}</tspan>
      </text>
      {paraLines.map((l, i) => (
        <text key={i} x={245} y={base + (i + 1) * step}
          textLength={i < paraLines.length - 1 ? 508 : 458}
          lengthAdjust="spacing"
          fontFamily={CJK} fontSize={fs} fill="#222">{l}</text>
      ))}
    </g>
  );
}

export default function App() {
  return (
    <>
      <style>{'body{margin:0}'}</style>
      <svg width={802} height={1133} style={{ display: 'block', background: '#fff' }}>
        <defs>
          <marker id="arrowRed" viewBox="0 0 10 10" refX={8} refY={5} markerWidth={9} markerHeight={9}
            markerUnits="userSpaceOnUse" orient="auto">
            <path d="M0,0L10,5L0,10z" fill={RED} />
          </marker>
        </defs>
        <rect x={0.5} y={0.5} width={801} height={1132} fill="#fff" stroke="#9a9a9a" />
        <Header />
        <Chart3 />
        <Chart4 />
        <Body />
        <Chart5 />
        <Chart6 />
        <Chart7 />
        <Chart8 />
        <line x1={48} x2={757} y1={1065} y2={1065} stroke={NAVY} strokeWidth={2.5} />
        <text x={753} y={1085} textAnchor="end" fontFamily={CJK} fontSize={12} fill="#333">请务必阅读正文之后的信息披露和法律声明</text>
      </svg>
    </>
  );
}
